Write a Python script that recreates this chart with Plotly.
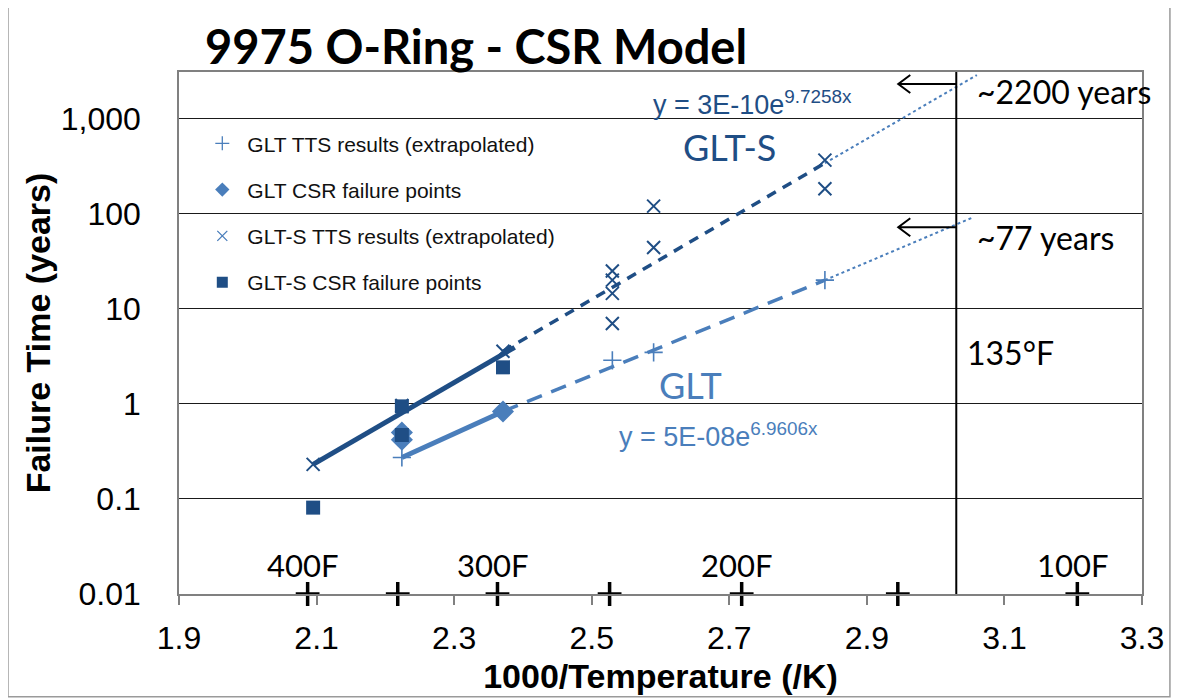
import plotly.graph_objects as go

# ---- data ----
glt_tts_x = [2.224, 2.53, 2.59, 2.839]
glt_tts_y = [0.273, 2.87, 3.48, 20.0]

glt_csr_x = [2.224, 2.224, 2.371]
glt_csr_y = [0.50, 0.42, 0.83]

glts_tts_x = [2.095, 2.224, 2.371, 2.53, 2.53, 2.53, 2.53, 2.59, 2.59, 2.839, 2.839]
glts_tts_y = [0.231, 0.96, 3.57, 25.0, 20.0, 14.5, 7.0, 120.0, 44.0, 366.0, 183.0]

glts_csr_x = [2.095, 2.224, 2.224, 2.371]
glts_csr_y = [0.081, 0.94, 0.47, 2.42]

# trend-line segments (endpoints)
glts_solid_x, glts_solid_y = [2.095, 2.388], [0.231, 3.93]
glts_dash_x, glts_dash_y = [2.371, 2.839], [3.57, 340.0]
glts_dot_x, glts_dot_y = [2.839, 3.06], [340.0, 2870.0]
glt_solid_x, glt_solid_y = [2.224, 2.371], [0.273, 0.83]
glt_dash_x, glt_dash_y = [2.371, 2.839], [0.83, 20.0]
glt_dot_x, glt_dot_y = [2.839, 3.055], [20.0, 92.0]

# temperature reference marks on the x axis
temp_x = [2.087, 2.218, 2.363, 2.526, 2.718, 2.945, 3.206]
temp_labels = {"400F": 2.087, "300F": 2.363, "200F": 2.718, "100F": 3.206}
limit_x = 3.03  # 135 F

y_ticks = [0.01, 0.1, 1, 10, 100, 1000]
y_ticktext = ["0.01", "0.1", "1", "10", "100", "1,000"]
x_ticks = [1.9, 2.1, 2.3, 2.5, 2.7, 2.9, 3.1, 3.3]
x_ticktext = ["1.9", "2.1", "2.3", "2.5", "2.7", "2.9", "3.1", "3.3"]

DARK = "#1F4E85"
LIGHT = "#4A7EBB"
ARIAL = "Liberation Sans, Arial, sans-serif"
CAL = "Lato, Carlito, Calibri, sans-serif"

fig = go.Figure()

def seg(x, y, color, width, dash):
    fig.add_trace(go.Scatter(x=x, y=y, mode="lines", showlegend=False, hoverinfo="skip",
                             line=dict(color=color, width=width, dash=dash)))

seg(glts_dot_x, glts_dot_y, LIGHT, 2, "dot")
seg(glt_dot_x, glt_dot_y, LIGHT, 2, "dot")
seg(glts_dash_x, glts_dash_y, DARK, 3.5, "10px,8px")
seg(glt_dash_x, glt_dash_y, LIGHT, 3.5, "16px,10px")
seg(glts_solid_x, glts_solid_y, DARK, 5, "solid")
seg(glt_solid_x, glt_solid_y, LIGHT, 5, "solid")

series = [
    ("GLT TTS results (extrapolated)", glt_tts_x, glt_tts_y,
     dict(symbol="cross-thin", size=13, line=dict(color=LIGHT, width=1.6), color=LIGHT),
     dict(symbol="cross-thin", size=10, line=dict(color=LIGHT, width=1.3), color=LIGHT)),
    ("GLT CSR failure points", glt_csr_x, glt_csr_y,
     dict(symbol="diamond", size=17, color=LIGHT),
     dict(symbol="diamond", size=11, color=LIGHT)),
    ("GLT-S TTS results (extrapolated)", glts_tts_x, glts_tts_y,
     dict(symbol="x-thin", size=13, line=dict(color=DARK, width=2), color=DARK),
     dict(symbol="x-thin", size=10, line=dict(color=LIGHT, width=1.3), color=LIGHT)),
    ("GLT-S CSR failure points", glts_csr_x, glts_csr_y,
     dict(symbol="square", size=14, color=DARK),
     dict(symbol="square", size=11, color=DARK)),
]
for i, (name, xs, ys, mk, lmk) in enumerate(series):
    fig.add_trace(go.Scatter(x=xs, y=ys, mode="markers", name=name, showlegend=False,
                             legendgroup=f"g{i}", marker=mk))
    # legend entry with the smaller legend glyph
    fig.add_trace(go.Scatter(x=[None], y=[None], mode="markers", name=name, showlegend=True,
                             legendgroup=f"g{i}", marker=lmk, hoverinfo="skip"))

# temperature crosses on the axis
fig.add_trace(go.Scatter(x=temp_x, y=[0.01] * len(temp_x), mode="markers", showlegend=False, cliponaxis=False,
                         hoverinfo="skip",
                         marker=dict(symbol="cross-thin", size=17, line=dict(color="black", width=3.5))))

annotations = []
for lab, xv in temp_labels.items():
    annotations.append(dict(x=xv, y=-1.7, xref="x", yref="y", text=lab, showarrow=False, xshift=-5,
                            font=dict(family=CAL, size=31, color="black")))

annotations += [
    dict(x=2.734, y=3.163, text="y = 3E-10e<sup>9.7258x</sup>", showarrow=False,
         font=dict(family=ARIAL, size=27, color=DARK)),
    dict(x=2.701, y=2.70, text="GLT-S", showarrow=False, font=dict(family=CAL, size=36, color=DARK)),
    dict(x=2.643, y=0.195, text="GLT", showarrow=False, font=dict(family=CAL, size=36, color=LIGHT)),
    dict(x=2.685, y=-0.33, text="y = 5E-08e<sup>6.9606x</sup>", showarrow=False,
         font=dict(family=ARIAL, size=27, color=LIGHT)),
    dict(x=3.057, y=3.28, text="~2200 years", showarrow=False, xanchor="left",
         font=dict(family=CAL, size=32, color="black")),
    dict(x=3.057, y=1.753, text="~77 years", showarrow=False, xanchor="left",
         font=dict(family=CAL, size=32, color="black")),
    dict(x=3.042, y=0.542, text="135°F", showarrow=False, xanchor="left",
         font=dict(family=CAL, size=32, color="black")),
]

shapes = [
    dict(type="line", xref="x", yref="paper", x0=limit_x, x1=limit_x, y0=0, y1=1,
         line=dict(color="black", width=2)),
    dict(type="rect", xref="paper", yref="paper", x0=-0.1776, x1=1.029, y0=-0.197, y1=1.134,
         line=dict(color="#9a9a9a", width=1.5)),
]
for yv in [2307, 72]:
    shapes.append(dict(type="path", xref="x", yref="y", xsizemode="pixel", ysizemode="pixel",
                       xanchor=limit_x, yanchor=yv,
                       path="M 0,0 L -58,0 M -46,-9 L -58,0 L -46,9",
                       line=dict(color="black", width=2)))

fig.update_layout(
    width=1179, height=700,
    margin=dict(l=171, r=45, t=64, b=114, autoexpand=False),
    paper_bgcolor="white", plot_bgcolor="white",
    title=dict(text="<b>9975 O-Ring - CSR Model</b>", x=197 / 1179, xanchor="left", xref="container",
               y=1 - 40 / 700, yanchor="middle", yref="container",
               font=dict(family=CAL, size=47, color="black")),
    showlegend=True,
    legend=dict(x=0.019, y=0.902, xanchor="left", yanchor="top", bgcolor="rgba(0,0,0,0)",
                font=dict(family=ARIAL, size=21, color="#111"), tracegroupgap=16,
                traceorder="grouped", itemwidth=40),
    annotations=annotations,
    shapes=shapes,
)

fig.update_xaxes(range=[1.9, 3.3], tickvals=x_ticks, ticktext=x_ticktext,
                 showgrid=False, zeroline=False, automargin=False,
                 showline=True, linecolor="#808080", linewidth=1.5, mirror=True,
                 ticks="outside", ticklen=9, tickcolor="#808080", tickwidth=1.5,
                 ticklabelstandoff=6,
                 tickfont=dict(family=ARIAL, size=32, color="black"),
                 title=dict(text="<b>1000/Temperature (/K)</b>", standoff=9,
                            font=dict(family=ARIAL, size=34, color="black")))
fig.update_yaxes(type="log", range=[-2, 3.49], tickvals=y_ticks, ticktext=y_ticktext,
                 showgrid=True, gridcolor="#1a1a1a", gridwidth=1.3, zeroline=False, automargin=False,
                 showline=True, linecolor="#808080", linewidth=1.5, mirror=True,
                 ticks="", ticklabelstandoff=30,
                 tickfont=dict(family=ARIAL, size=32, color="black"),
                 title=dict(text="<b>Failure Time (years)</b>", standoff=0,
                            font=dict(family=ARIAL, size=34, color="black")))

fig.write_html("out.html")
